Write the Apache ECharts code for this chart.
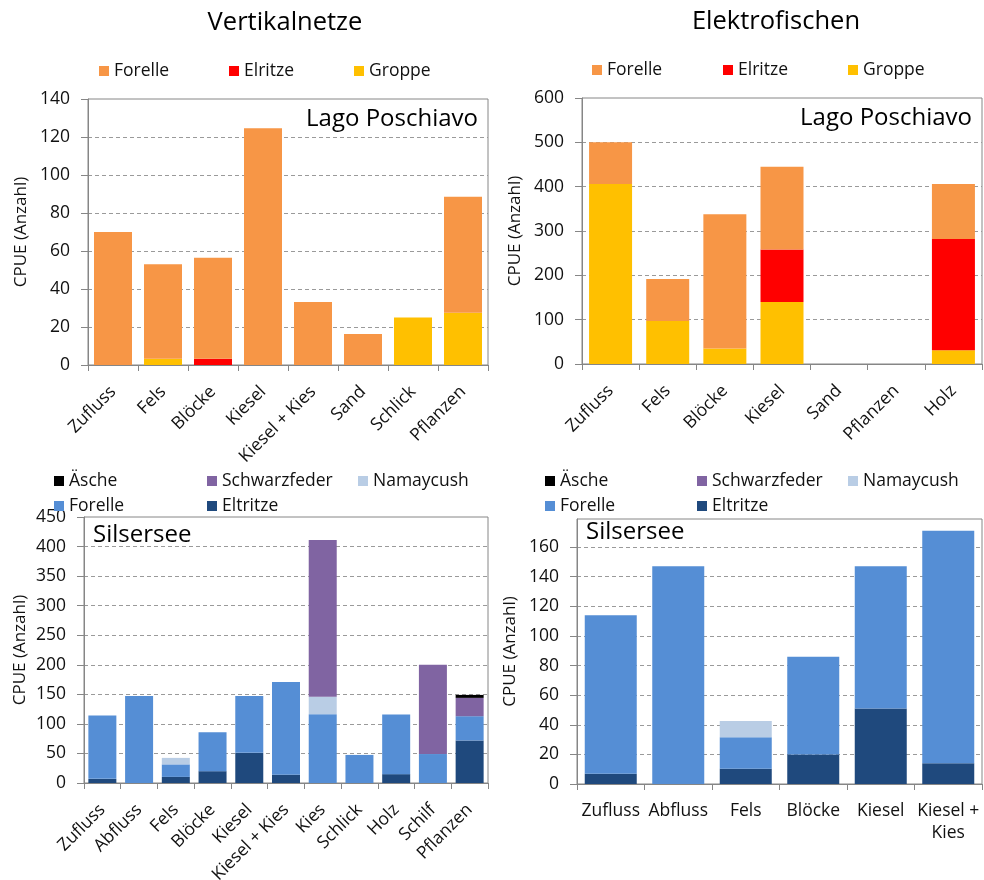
<!DOCTYPE html>
<html><head><meta charset="utf-8">
<script src="https://cdn.jsdelivr.net/npm/echarts@6/dist/echarts.min.js"></script>
<style>html,body{margin:0;padding:0;background:#fff}#c{width:984px;height:880px}</style>
</head><body><div id="c"></div>
<script>
// ---- Data ----
const vnCats = ['Zufluss','Fels','Blöcke','Kiesel','Kiesel + Kies','Sand','Schlick','Pflanzen'];
const vnForelle = [70, 49.7, 53.2, 124.6, 33.2, 16.3, 0, 61.1];
const vnElritze = [0, 0, 3.3, 0, 0, 0, 0, 0];
const vnGroppe  = [0, 3.3, 0, 0, 0, 0, 25, 27.5];

const efCats = ['Zufluss','Fels','Blöcke','Kiesel','Sand','Pflanzen','Holz'];
const efGroppe  = [406, 97, 35, 140, 0, 0, 31];
const efElritze = [0, 0, 0, 118, 0, 0, 251];
const efForelle = [94, 95, 303, 187, 0, 0, 124];

const svCats = ['Zufluss','Abfluss','Fels','Blöcke','Kiesel','Kiesel + Kies','Kies','Schlick','Holz','Schilf','Pflanzen'];
const svEltritze     = [7, 0, 10.3, 20, 51, 14, 0, 0, 15, 0, 72];
const svForelle      = [107, 147, 21.2, 66, 96, 157, 116.5, 47.5, 101, 49, 41];
const svNamaycush    = [0, 0, 11, 0, 0, 0, 29.5, 0, 0, 0, 0];
const svSchwarzfeder = [0, 0, 0, 0, 0, 0, 265, 0, 0, 151, 31];
const svAesche       = [0, 0, 0, 0, 0, 0, 0, 0, 0, 0, 5];

const seCats = ['Zufluss','Abfluss','Fels','Blöcke','Kiesel','Kiesel + Kies'];
const seEltritze     = [7, 0, 10.3, 20, 51, 14];
const seForelle      = [107, 147, 21.2, 66, 96, 157];
const seNamaycush    = [0, 0, 11, 0, 0, 0];
const seSchwarzfeder = [0, 0, 0, 0, 0, 0];
const seAesche       = [0, 0, 0, 0, 0, 0];

const yMax = [140, 600, 450, 179];
const yInt = [20, 100, 50, 20];

// ---- Styles ----
const FONT = '"Open Sans", sans-serif';
const C = {forelleO:'#F79646', elritze:'#FF0000', groppe:'#FFC000',
  forelleB:'#558ED5', eltritze:'#1F497D', namaycush:'#B9CDE5', schwarz:'#8064A2', aesche:'#000000'};
const axisGray = '#868686';

const grids = [
  {left:88, top:99, width:400, height:266},
  {left:582, top:98, width:400, height:266},
  {left:84, top:517, width:404, height:266},
  {left:577, top:519, width:405, height:265}
];
const nameGaps = [58, 58, 55, 58];

const xCats = [vnCats, efCats, svCats, seCats];
const xAxes = xCats.map((cats, i) => ({
  type:'category', gridIndex:i, data:cats,
  axisLine:{lineStyle:{color:axisGray}},
  axisTick:{show:true, length:6, lineStyle:{color:axisGray}},
  axisLabel: i < 3 ? {rotate:45, fontSize:17.5, fontFamily:FONT, color:'#111', margin:24, interval:0}
    : {fontSize:17.5, fontFamily:FONT, color:'#111', margin:16, interval:0, lineHeight:22,
       formatter: v => v.replace(' + ', ' +\n')}
}));
const yAxes = grids.map((g, i) => ({
  type:'value', gridIndex:i, min:0, max:yMax[i], interval:yInt[i],
  name:'CPUE (Anzahl)', nameLocation:'middle', nameGap:nameGaps[i],
  nameTextStyle:{fontSize:17, fontFamily:FONT, color:'#111'},
  axisLine:{show:true, lineStyle:{color:axisGray}},
  axisTick:{show:true, length:7, lineStyle:{color:axisGray}},
  axisLabel:{fontSize:17.5, fontFamily:FONT, color:'#111', margin:18, showMaxLabel: i !== 3},
  splitLine:{show:true, showMaxLine:false, lineStyle:{color:'#9a9a9a', type:[4,3], width:1}}
}));

function bars(name, data, color, idx, stack, width) {
  return {type:'bar', name, data, xAxisIndex:idx, yAxisIndex:idx, stack, barWidth:width,
    itemStyle:{color}, emphasis:{disabled:true}, animation:false};
}
const series = [
  bars('Groppe', vnGroppe, C.groppe, 0, 'a', 38),
  bars('Elritze', vnElritze, C.elritze, 0, 'a', 38),
  bars('Forelle', vnForelle, C.forelleO, 0, 'a', 38),
  bars('Groppe', efGroppe, C.groppe, 1, 'b', 43),
  bars('Elritze', efElritze, C.elritze, 1, 'b', 43),
  bars('Forelle', efForelle, C.forelleO, 1, 'b', 43),
  bars('Eltritze', svEltritze, C.eltritze, 2, 'c', 28),
  bars('Forelle', svForelle, C.forelleB, 2, 'c', 28),
  bars('Namaycush', svNamaycush, C.namaycush, 2, 'c', 28),
  bars('Schwarzfeder', svSchwarzfeder, C.schwarz, 2, 'c', 28),
  bars('Äsche', svAesche, C.aesche, 2, 'c', 28),
  bars('Eltritze', seEltritze, C.eltritze, 3, 'd', 52),
  bars('Forelle', seForelle, C.forelleB, 3, 'd', 52),
  bars('Namaycush', seNamaycush, C.namaycush, 3, 'd', 52),
  bars('Schwarzfeder', seSchwarzfeder, C.schwarz, 3, 'd', 52),
  bars('Äsche', seAesche, C.aesche, 3, 'd', 52)
];

function leg(name, color, left, cy) {
  return {data:[{name, itemStyle:{color}}], left, top:cy-10, padding:0, itemWidth:10, itemHeight:10,
    icon:'rect', selectedMode:false, textStyle:{fontSize:17.5, fontFamily:FONT, color:'#111'}};
}
const legends = [
  leg('Forelle', C.forelleO, 99, 72), leg('Elritze', C.elritze, 229, 72), leg('Groppe', C.groppe, 354, 72),
  leg('Forelle', C.forelleO, 592, 71), leg('Elritze', C.elritze, 723, 71), leg('Groppe', C.groppe, 848, 71),
  leg('Äsche', C.aesche, 54, 482), leg('Schwarzfeder', C.schwarz, 207, 482), leg('Namaycush', C.namaycush, 358, 482),
  leg('Forelle', C.forelleB, 54, 507), leg('Eltritze', C.eltritze, 207, 507),
  leg('Äsche', C.aesche, 545, 482), leg('Schwarzfeder', C.schwarz, 697, 482), leg('Namaycush', C.namaycush, 848, 482),
  leg('Forelle', C.forelleB, 545, 507), leg('Eltritze', C.eltritze, 697, 507)
];

function txt(text, x, y, size, align) {
  return {type:'text', x, y, z:100, silent:true,
    style:{text, fontSize:size, fontFamily:FONT, fill:'#000', align, verticalAlign:'middle'}};
}
const graphics = [
  txt('Vertikalnetze', 285, 23, 25.5, 'center'),
  txt('Elektrofischen', 776, 22, 25.5, 'center'),
  txt('Lago Poschiavo', 478, 119, 24, 'right'),
  txt('Lago Poschiavo', 972, 118, 24, 'right'),
  txt('Silsersee', 93, 535, 24, 'left'),
  txt('Silsersee', 586, 532, 24, 'left')
];

const chart = echarts.init(document.getElementById('c'), null, {renderer:'canvas'});
chart.setOption({
  backgroundColor:'#fff',
  animation:false,
  grid: grids.map(g => Object.assign({show:true, borderColor:axisGray, borderWidth:1, backgroundColor:'transparent',
    containLabel:false, outerBoundsMode:'none'}, g)),
  xAxis:xAxes, yAxis:yAxes, series, legend:legends, graphic:graphics
});
</script></body></html>
